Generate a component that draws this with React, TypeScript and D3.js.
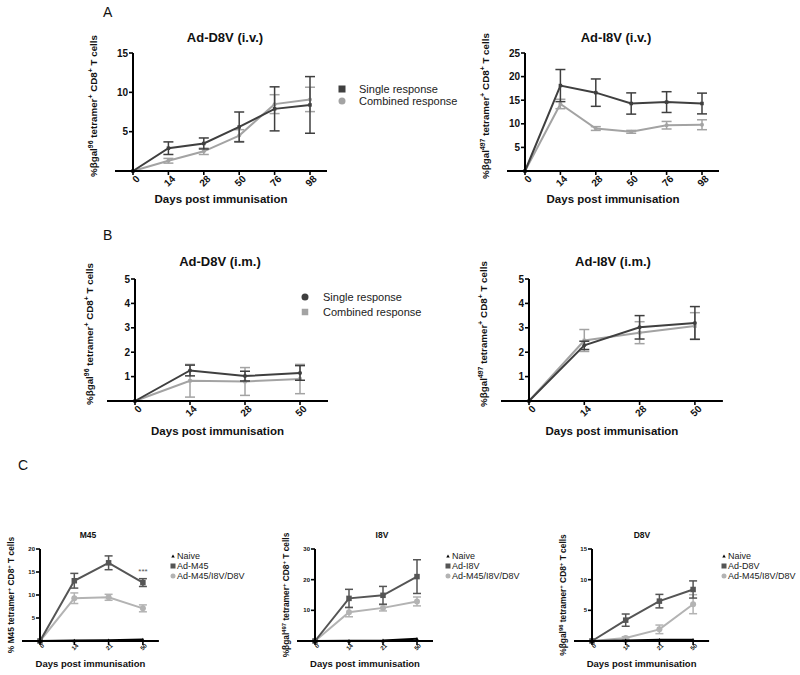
import React from 'react';
import * as d3 from 'd3';

// days on the x axis
const daysA = ['0', '14', '28', '50', '76', '98'];
const daysB = ['0', '14', '28', '50'];
const daysC = ['0', '14', '21', '50'];

// A: i.v.
const d8vIvSingle = [0, 2.9, 3.5, 5.6, 7.9, 8.4];
const d8vIvSingleErr = [0, 0.8, 0.7, 1.9, 2.8, 3.6];
const d8vIvCombined = [0, 1.3, 2.5, 4.5, 8.5, 9.1];
const d8vIvCombinedErr = [0, 0.3, 0.4, 0.75, 1.2, 1.55];

const i8vIvSingle = [0, 18.1, 16.6, 14.3, 14.6, 14.3];
const i8vIvSingleErr = [0, 3.4, 2.9, 2.25, 2.2, 2.2];
const i8vIvCombined = [0, 14.2, 9.0, 8.3, 9.7, 9.8];
const i8vIvCombinedErr = [0, 1.0, 0.4, 0.3, 0.8, 1.05];

// B: i.m.
const d8vImSingle = [0, 1.25, 1.02, 1.15];
const d8vImSingleErr = [0, 0.22, 0.2, 0.3];
const d8vImCombined = [0, 0.83, 0.8, 0.9];
const d8vImCombinedErr = [0, 0.67, 0.57, 0.6];

const i8vImSingle = [0, 2.28, 3.02, 3.2];
const i8vImSingleErr = [0, 0.17, 0.48, 0.67];
const i8vImCombined = [0, 2.48, 2.8, 3.07];
const i8vImCombinedErr = [0, 0.45, 0.45, 0.55];

// C
const m45Naive = [0, 0.1, 0.15, 0.3];
const m45Single = [0, 13.1, 17.0, 12.7];
const m45SingleErr = [0, 1.6, 1.5, 0.85];
const m45Combined = [0, 9.3, 9.5, 7.1];
const m45CombinedErr = [0, 1.15, 0.65, 0.75];

const i8vNaive = [0, 0.1, 0.2, 0.7];
const i8vSingle = [0, 13.9, 14.9, 21.0];
const i8vSingleErr = [0, 2.95, 2.9, 5.5];
const i8vCombined = [0, 9.4, 10.8, 12.9];
const i8vCombinedErr = [0, 1.5, 1.0, 1.45];

const d8vNaive = [0, 0.1, 0.2, 0.2];
const d8vSingle = [0, 3.4, 6.5, 8.4];
const d8vSingleErr = [0, 1.0, 1.1, 1.4];
const d8vCombined = [0, 0.5, 1.9, 6.0];
const d8vCombinedErr = [0, 0.2, 0.7, 1.55];

const FONT = 'Liberation Sans, Arial, sans-serif';
const DARK = '#3f3f3f';
const LIGHT = '#a3a3a3';

type Marker = 'square' | 'circle' | 'triangle';

interface Series {
  values: number[];
  errors?: number[];
  color: string;
  marker: Marker;
  size: number;
  width: number;
}

const drawMarker = (m: Marker, x: number, y: number, s: number, color: string, key: string) => {
  if (m === 'square') return <rect key={key} x={x - s / 2} y={y - s / 2} width={s} height={s} fill={color} />;
  if (m === 'circle') return <circle key={key} cx={x} cy={y} r={s / 2} fill={color} />;
  const h = s * 0.9;
  return <path key={key} d={`M${x},${y - h / 2}L${x + s / 2},${y + h / 2}L${x - s / 2},${y + h / 2}Z`} fill={color} />;
};

// label with superscripts: parts alternate normal / superscript
const SupText = ({ parts, size }: { parts: [string, boolean][]; size: number }) => {
  let shifted = false;
  return (
    <>
      {parts.map(([t, sup], i) => {
        let dy = 0;
        if (sup && !shifted) { dy = -size * 0.4; shifted = true; }
        else if (!sup && shifted) { dy = size * 0.4; shifted = false; }
        return (
          <tspan key={i} dy={dy} fontSize={sup ? size * 0.7 : size}>{t}</tspan>
        );
      })}
    </>
  );
};

interface PanelProps {
  cats: string[];
  series: Series[];
  x0: number;
  step: number;
  yTop: number;
  yBottom: number;
  yMax: number;
  yTicks: number[];
  extL: number;
  extR: number;
  cap: number;
  title: string;
  titleX: number;
  titleY: number;
  titleSize: number;
  xTitleY: number;
  xTitleSize: number;
  tickSize: number;
  yLabel: [string, boolean][];
  yLabelX: number;
  yLabelY: number;
  yLabelSize: number;
  axisWidth: number;
}

const Panel = (p: PanelProps) => {
  const x = d3.scalePoint<string>().domain(p.cats).range([p.x0, p.x0 + p.step * (p.cats.length - 1)]);
  const y = d3.scaleLinear().domain([0, p.yMax]).range([p.yBottom, p.yTop]);
  const line = d3.line<number>().x((_, i) => x(p.cats[i]) as number).y(d => y(d));
  const axL = p.x0 - p.extL;
  const axR = p.x0 + p.step * (p.cats.length - 1) + p.extR;
  const xMid = (axL + axR) / 2;
  return (
    <g fontFamily={FONT}>
      <text x={p.titleX} y={p.titleY} textAnchor="middle" fontWeight="bold" fontSize={p.titleSize} fill="#111">{p.title}</text>
      {/* series */}
      {p.series.map((s, si) => (
        <g key={si}>
          <path d={line(s.values) || ''} fill="none" stroke={s.color} strokeWidth={s.width} />
          {s.errors && s.values.map((v, i) => {
            const e = s.errors![i];
            if (!e) return null;
            const cx = x(p.cats[i]) as number;
            return (
              <g key={i} stroke={s.color} strokeWidth={1.5}>
                <line x1={cx} x2={cx} y1={y(v - e)} y2={y(v + e)} />
                <line x1={cx - p.cap / 2} x2={cx + p.cap / 2} y1={y(v - e)} y2={y(v - e)} />
                <line x1={cx - p.cap / 2} x2={cx + p.cap / 2} y1={y(v + e)} y2={y(v + e)} />
              </g>
            );
          })}
          {s.values.map((v, i) => drawMarker(s.marker, x(p.cats[i]) as number, y(v), s.size, s.color, `m${i}`))}
        </g>
      ))}
      {/* axes */}
      <line x1={p.x0} x2={p.x0} y1={p.yTop} y2={p.yBottom} stroke="#000" strokeWidth={p.axisWidth} />
      <line x1={axL} x2={axR} y1={p.yBottom} y2={p.yBottom} stroke="#000" strokeWidth={p.axisWidth} />
      {p.yTicks.map(t => (
        <g key={t}>
          <line x1={p.x0 - 4} x2={p.x0} y1={y(t)} y2={y(t)} stroke="#000" strokeWidth={p.axisWidth * 0.8} />
          <text x={p.x0 - 5} y={y(t)} dy="0.35em" textAnchor="end" fontWeight="bold" fontSize={p.tickSize} fill="#111">{t}</text>
        </g>
      ))}
      {p.cats.map(c => {
        const cx = x(c) as number;
        return (
          <g key={c}>
            <line x1={cx} x2={cx} y1={p.yBottom} y2={p.yBottom + 4} stroke="#000" strokeWidth={p.axisWidth * 0.8} />
            <text transform={`translate(${cx + p.tickSize * 0.5},${p.yBottom + p.tickSize * 0.6}) rotate(-45)`}
              textAnchor="end" dy="0.35em" fontWeight="bold" fontSize={p.tickSize} fill="#111">{c}</text>
          </g>
        );
      })}
      <text x={xMid} y={p.xTitleY} textAnchor="middle" fontWeight="bold" fontSize={p.xTitleSize} fill="#111">Days post immunisation</text>
      <text transform={`translate(${p.yLabelX},${p.yLabelY}) rotate(-90)`} textAnchor="middle" fontWeight="bold" fontSize={p.yLabelSize} fill="#111">
        <SupText parts={p.yLabel} size={p.yLabelSize} />
      </text>
    </g>
  );
};

const lbl96: [string, boolean][] = [['%βgal', false], ['96', true], [' tetramer', false], ['+', true], [' CD8', false], ['+', true], [' T cells', false]];
const lbl497: [string, boolean][] = [['%βgal', false], ['497', true], [' tetramer', false], ['+', true], [' CD8', false], ['+', true], [' T cells', false]];
const lblM45: [string, boolean][] = [['% M45 tetramer', false], ['+', true], [' CD8', false], ['+', true], [' T cells', false]];

const LegendRow = ({ x, y, marker, color, size, label, fontSize, gap }: { x: number; y: number; marker: Marker; color: string; size: number; label: string; fontSize: number; gap: number }) => (
  <g>
    {drawMarker(marker, x, y, size, color, 'lm')}
    <text x={x + gap} y={y} dy="0.35em" fontFamily={FONT} fontSize={fontSize} fill="#222">{label}</text>
  </g>
);

const ivA = { extL: 18, extR: 17, cap: 10, titleY: 42, titleSize: 13, xTitleY: 203, xTitleSize: 11.5, tickSize: 10, yLabelSize: 9.8, yTop: 53, yBottom: 171, axisWidth: 2 };
const imB = { extL: 28, extR: 28, cap: 10, titleY: 266, titleSize: 13, xTitleY: 435, xTitleSize: 11.5, tickSize: 10, yLabelSize: 9.8, yTop: 279, yBottom: 401, axisWidth: 2 };
const pC = { extL: 18, extR: 16, cap: 8, titleY: 538, titleSize: 8.5, xTitleY: 667, xTitleSize: 9.5, tickSize: 6, yLabelSize: 8.4, yTop: 549, yBottom: 641, axisWidth: 2 };

const cSeries = (naive: number[], single: number[], singleErr: number[], comb: number[], combErr: number[]): Series[] => [
  { values: comb, errors: combErr, color: '#b3b3b3', marker: 'circle', size: 6, width: 2 },
  { values: single, errors: singleErr, color: '#555', marker: 'square', size: 5.5, width: 2 },
  { values: naive, color: '#000', marker: 'triangle', size: 4, width: 2 },
];

const CLegend = ({ x, name }: { x: number; name: string }) => (
  <g>
    <LegendRow x={x} y={556} marker="triangle" color="#000" size={3.5} label="Naive" fontSize={9} gap={4} />
    <LegendRow x={x} y={566} marker="square" color="#555" size={5} label={name} fontSize={9} gap={4} />
    <LegendRow x={x} y={576} marker="circle" color="#b3b3b3" size={5} label="Ad-M45/I8V/D8V" fontSize={9} gap={4} />
  </g>
);

export default function App() {
  return (
    <svg width={800} height={675} style={{ position: 'absolute', left: 0, top: 0, background: '#fff' }}>
      <rect width={800} height={675} fill="#fff" />
      <text x={103} y={17} fontFamily={FONT} fontSize={14} fill="#111">A</text>
      <text x={103} y={240} fontFamily={FONT} fontSize={14} fill="#111">B</text>
      <text x={18} y={470} fontFamily={FONT} fontSize={14} fill="#111">C</text>

      <Panel {...ivA} cats={daysA} x0={133} step={35.4} yMax={15} yTicks={[5, 10, 15]}
        title="Ad-D8V (i.v.)" titleX={225} yLabel={lbl96} yLabelX={97} yLabelY={106}
        series={[
          { values: d8vIvCombined, errors: d8vIvCombinedErr, color: LIGHT, marker: 'circle', size: 4, width: 2 },
          { values: d8vIvSingle, errors: d8vIvSingleErr, color: DARK, marker: 'square', size: 3.5, width: 2 },
        ]} />
      <LegendRow x={342} y={89} marker="square" color={DARK} size={7} label="Single response" fontSize={11} gap={17} />
      <LegendRow x={342} y={101} marker="circle" color={LIGHT} size={7} label="Combined response" fontSize={11} gap={17} />

      <Panel {...ivA} cats={daysA} x0={525} step={35.4} yMax={25} yTicks={[5, 10, 15, 20, 25]}
        title="Ad-I8V (i.v.)" titleX={616} yLabel={lbl497} yLabelX={489} yLabelY={106}
        series={[
          { values: i8vIvCombined, errors: i8vIvCombinedErr, color: LIGHT, marker: 'circle', size: 4, width: 2 },
          { values: i8vIvSingle, errors: i8vIvSingleErr, color: DARK, marker: 'square', size: 3.5, width: 2 },
        ]} />

      <Panel {...imB} cats={daysB} x0={135} step={55} yMax={5} yTicks={[1, 2, 3, 4, 5]}
        title="Ad-D8V (i.m.)" titleX={220} yLabel={lbl96} yLabelX={93} yLabelY={334}
        series={[
          { values: d8vImCombined, errors: d8vImCombinedErr, color: LIGHT, marker: 'square', size: 3.5, width: 2 },
          { values: d8vImSingle, errors: d8vImSingleErr, color: DARK, marker: 'circle', size: 4, width: 2 },
        ]} />
      <LegendRow x={305} y={297} marker="circle" color={DARK} size={7} label="Single response" fontSize={11} gap={18} />
      <LegendRow x={305} y={312} marker="square" color={LIGHT} size={6.5} label="Combined response" fontSize={11} gap={18} />

      <Panel {...imB} cats={daysB} x0={529} step={55.3} yMax={5} yTicks={[1, 2, 3, 4, 5]}
        title="Ad-I8V (i.m.)" titleX={613} yLabel={lbl497} yLabelX={487} yLabelY={334}
        series={[
          { values: i8vImCombined, errors: i8vImCombinedErr, color: LIGHT, marker: 'square', size: 3.5, width: 2 },
          { values: i8vImSingle, errors: i8vImSingleErr, color: DARK, marker: 'circle', size: 4, width: 2 },
        ]} />

      <Panel {...pC} cats={daysC} x0={40} step={34.3} yMax={20} yTicks={[5, 10, 15, 20]}
        title="M45" titleX={88} yLabel={lblM45} yLabelX={14} yLabelY={595}
        series={cSeries(m45Naive, m45Single, m45SingleErr, m45Combined, m45CombinedErr)} />
      <text x={143} y={574} textAnchor="middle" fontFamily={FONT} fontSize={8} fill="#555">***</text>
      <CLegend x={173} name="Ad-M45" />

      <Panel {...pC} cats={daysC} x0={315} step={34} yMax={30} yTicks={[10, 20, 30]}
        title="I8V" titleX={382} yLabel={lbl497} yLabelX={289} yLabelY={595}
        series={cSeries(i8vNaive, i8vSingle, i8vSingleErr, i8vCombined, i8vCombinedErr)} />
      <CLegend x={448} name="Ad-I8V" />

      <Panel {...pC} cats={daysC} x0={592} step={33.7} yMax={15} yTicks={[5, 10, 15]}
        title="D8V" titleX={642} yLabel={lbl96} yLabelX={566} yLabelY={595}
        series={cSeries(d8vNaive, d8vSingle, d8vSingleErr, d8vCombined, d8vCombinedErr)} />
      <CLegend x={724} name="Ad-D8V" />
    </svg>
  );
}
